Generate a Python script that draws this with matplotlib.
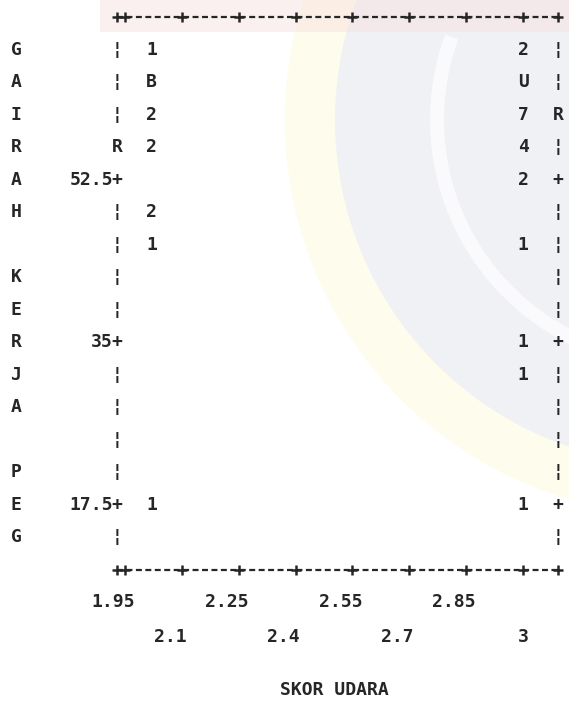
import numpy as np
import matplotlib.pyplot as plt
import matplotlib.transforms as mtransforms
from matplotlib.patches import Circle, Wedge, Rectangle

plt.rcParams['lines.scale_dashes'] = False

# 散佈圖資料 (SKOR UDARA vs GAIRAH KERJA PEG), 每格為重疊的個數
skor_udara = [2.02, 2.02, 2.02, 2.02, 2.02, 2.02, 2.02,
              3.0, 3.0, 3.0, 3.0, 3.0, 3.0, 3.0, 3.0, 3.0]
gairah_kerja = [66.5, 63, 59.5, 56, 49, 45.5, 17.5,
                66.5, 63, 59.5, 56, 52.5, 45.5, 35, 31.5, 17.5]
counts = [1, 11, 2, 2, 2, 1, 1,
          2, 30, 7, 4, 2, 1, 1, 1, 1]

# 迴歸線在左右邊框的位置 (R)
reg_left_y = 56
reg_right_y = 59.5

x_ticks = [1.95, 2.1, 2.25, 2.4, 2.55, 2.7, 2.85, 3.0]
x_tick_labels = ['1.95', '2.1', '2.25', '2.4', '2.55', '2.7', '2.85', '3']
y_ticks = [52.5, 35, 17.5]
y_tick_labels = ['52.5', '35', '17.5']
x_title = 'SKOR UDARA'
y_title = 'GAIRAH KERJA PEG'

# 座標範圍 (每一列 3.5 單位)
row_step = 3.5
y_top, y_bottom = 70, 10.5
x_left, x_right = 1.929, 3.092

ink = '#262626'
font = dict(family='DejaVu Sans Mono', fontsize=13, fontweight='bold', color=ink)


def symbol(n):
    # 1-9 用數字, 10 以上用字母 A=10, B=11, ...
    return str(n) if n < 10 else chr(ord('A') + n - 10)


W, H = 569, 709
fig = plt.figure(figsize=(W / 100, H / 100), dpi=100)
fig.patch.set_facecolor('white')

# 背景浮水印 (淡色)
bg = fig.add_axes([0, 0, 1, 1], zorder=-1)
bg.set_xlim(0, W)
bg.set_ylim(H, 0)
bg.axis('off')
bg.add_patch(Circle((680, 120), 395, color='#fefcec', lw=0))
bg.add_patch(Circle((680, 120), 345, color='#f0f1f5', lw=0))
bg.add_patch(Wedge((680, 120), 250, 100, 200, width=14, color='#fafafc', lw=0))
bg.add_patch(Rectangle((100, 0), 470, 32, color='#f8dede', alpha=0.45, lw=0))

ax = fig.add_axes([117 / W, (H - 570) / H, (558 - 117) / W, (570 - 17) / H])
ax.set_xlim(x_left, x_right)
ax.set_ylim(y_bottom, y_top)
ax.axis('off')

# 上下邊框: 虛線 + 刻度
for yb in (y_top, y_bottom):
    ax.plot([x_left, x_right], [yb, yb], color=ink, lw=1.6,
            ls=(0, (4.3, 2.5)), clip_on=False)
    ax.plot([x_left] + x_ticks + [x_right], [yb] * (len(x_ticks) + 2),
            ls='none', marker='+', ms=7, mew=1.8, color=ink, clip_on=False)

# 左右邊框: 每列一個字元
rows = np.arange(1, 17)
row_vals = y_top - row_step * rows
for v in row_vals:
    left_ch = '+' if v in y_ticks else ('R' if v == reg_left_y else '¦')
    right_ch = '+' if v in y_ticks else ('R' if v == reg_right_y else '¦')
    ax.text(x_left, v, left_ch, ha='center', va='center', **font)
    ax.text(x_right, v, right_ch, ha='center', va='center', **font)

# y 軸刻度標籤
shift_left = mtransforms.offset_copy(ax.transData, fig=fig, x=-4, y=0, units='dots')
for v, lab in zip(y_ticks, y_tick_labels):
    ax.text(x_left, v, lab, ha='right', va='center', transform=shift_left, **font)

# 資料點 (個數符號)
for xv, yv, n in zip(skor_udara, gairah_kerja, counts):
    ax.text(xv, yv, symbol(n), ha='center', va='center', **font)

# x 軸刻度標籤, 交錯兩列
for i, (v, lab) in enumerate(zip(x_ticks, x_tick_labels)):
    dx = 0 if len(lab) == 1 else -12
    ypx = 602 if i % 2 == 0 else 637
    tr = mtransforms.blended_transform_factory(ax.transData, fig.transFigure)
    tr = tr + mtransforms.ScaledTranslation(dx / 100, 0, fig.dpi_scale_trans)
    ax.text(v, 1 - ypx / H, lab, ha='center', va='center', transform=tr, **font)

# y 軸標題: 直排字母
for r, ch in zip(rows, y_title):
    tr = mtransforms.blended_transform_factory(fig.transFigure, ax.transData)
    ax.text(16 / W, y_top - row_step * r, ch, ha='center', va='center',
            transform=tr, **font)

fig.text(334 / W, 1 - 690 / H, x_title, ha='center', va='center', **font)

fig.savefig('out.png', dpi=100)
